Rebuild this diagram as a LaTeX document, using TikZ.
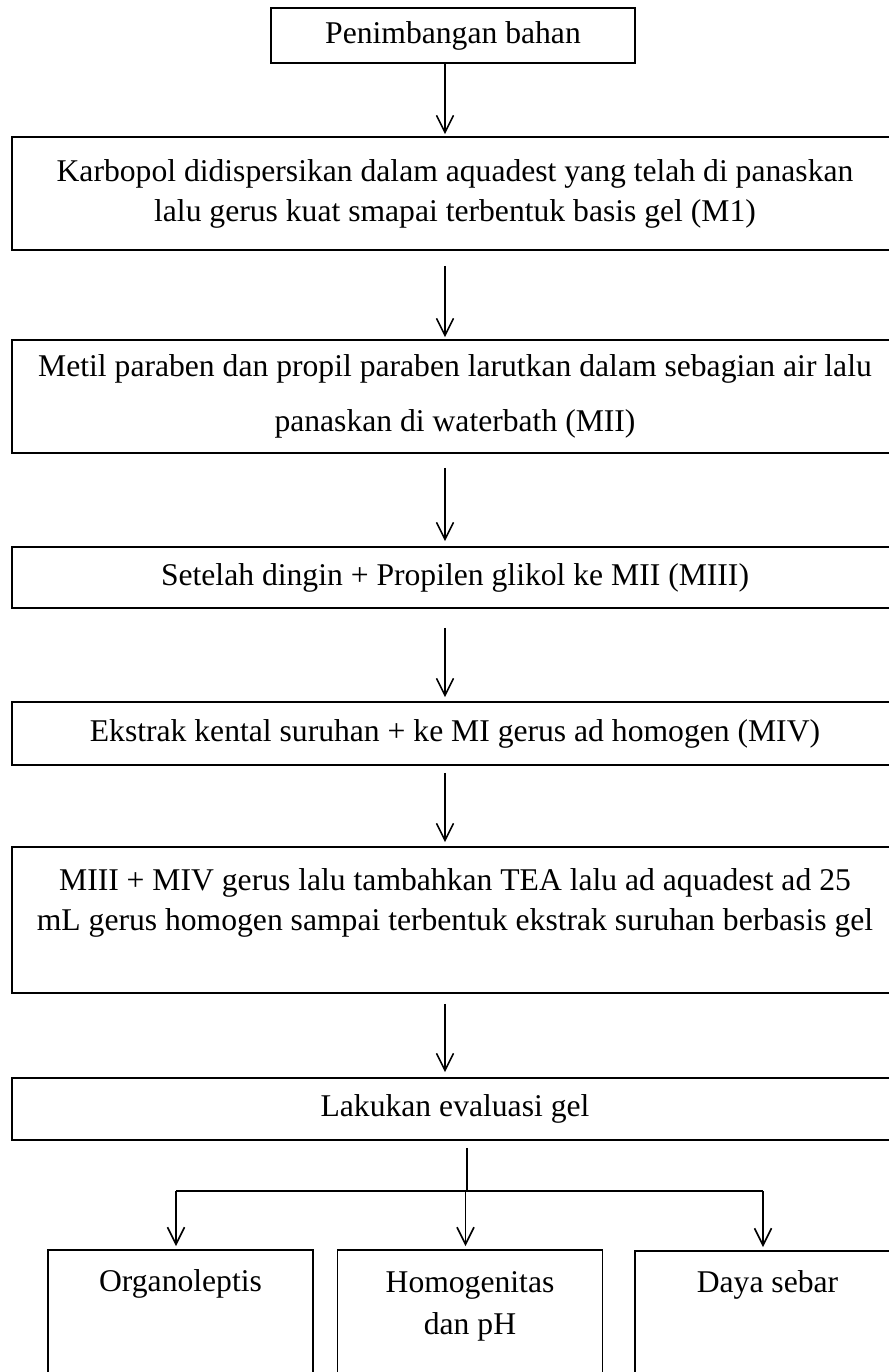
\documentclass[tikz,border=0pt]{standalone}
\usepackage{fontspec}
\setmainfont{Liberation Serif}
\usetikzlibrary{arrows.meta}

\begin{document}
\begin{tikzpicture}[
    stepbox/.style={draw, line width=1pt, align=center, inner sep=0pt,
      font=\fontsize{18}{22.8}\selectfont},
    widebox/.style={stepbox, minimum width=17.72cm},
    evalbox/.style={stepbox, anchor=north, minimum width=5.30cm,
      text height=0.84cm, text depth=3cm},
    arr/.style={-{Straight Barb[length=0.34cm, width=0.34cm]}, line width=0.9pt}
  ]
    \useasboundingbox (0,0) rectangle (17.78,-27.44);
    % Steps
    \node[stepbox, minimum width=7.28cm, minimum height=1.10cm] (timbang) at (9.06,-0.71) {Penimbangan bahan};
    \node[widebox, minimum height=2.26cm] (karbopol) at (9.10,-3.87)
      {Karbopol didispersikan dalam aquadest yang telah di panaskan\\lalu gerus kuat smapai terbentuk basis gel (M1)};
    \node[widebox, minimum height=2.26cm] (paraben) at (9.10,-7.93)
      {Metil paraben dan propil paraben larutkan dalam sebagian air lalu\\[8.5pt]panaskan di waterbath (MII)};
    \node[widebox, minimum height=1.22cm] (dingin) at (9.10,-11.55) {Setelah dingin + Propilen glikol ke MII (MIII)};
    \node[widebox, minimum height=1.26cm] (ekstrak) at (9.10,-14.67) {Ekstrak kental suruhan + ke MI gerus ad homogen (MIV)};
    \node[widebox, minimum height=2.92cm] (campur) at (9.10,-18.40)
      {MIII + MIV gerus lalu tambahkan TEA lalu ad aquadest ad 25\\mL gerus homogen sampai terbentuk ekstrak suruhan berbasis gel\\\mbox{}};
    \node[widebox, minimum height=1.24cm] (evaluasi) at (9.10,-22.18) {Lakukan evaluasi gel};
    % Evaluations
    \node[evalbox] (organo) at (3.61,-24.98) {Organoleptis};
    \node[evalbox, text height=1.70cm, text depth=2.14cm] (homogen) at (9.40,-24.98) {Homogenitas\\[1.6pt]dan pH};
    \node[evalbox] (daya) at (15.35,-25.00) {Daya sebar};
    % Arrows
    \coordinate (spine) at (8.90,0);
    \draw[arr, shorten >=0.04cm] (timbang.south -| spine) -- (karbopol.north -| spine);
    \draw[arr, shorten <=0.30cm, shorten >=0.04cm] (karbopol.south -| spine) -- (paraben.north -| spine);
    \draw[arr, shorten <=0.28cm, shorten >=0.10cm] (paraben.south -| spine) -- (dingin.north -| spine);
    \draw[arr, shorten <=0.38cm, shorten >=0.08cm] (dingin.south -| spine) -- (ekstrak.north -| spine);
    \draw[arr, shorten <=0.14cm, shorten >=0.08cm] (ekstrak.south -| spine) -- (campur.north -| spine);
    \draw[arr, shorten <=0.20cm, shorten >=0.10cm] (campur.south -| spine) -- (evaluasi.north -| spine);
    % Branches
    \coordinate (fork) at (9.34,-23.82);
    \draw[line width=0.7pt] ([yshift=-0.14cm]evaluasi.south -| fork) -- (fork);
    \draw[line width=0.9pt] ([xshift=-0.09cm]organo.north |- fork) -- ([xshift=-0.09cm]daya.north |- fork);
    \foreach \b in {organo,homogen,daya}
      \draw[arr, shorten >=0.06cm] ([xshift=-0.09cm]\b.north |- fork) -- ([xshift=-0.09cm]\b.north);
  \end{tikzpicture}
\end{document}
